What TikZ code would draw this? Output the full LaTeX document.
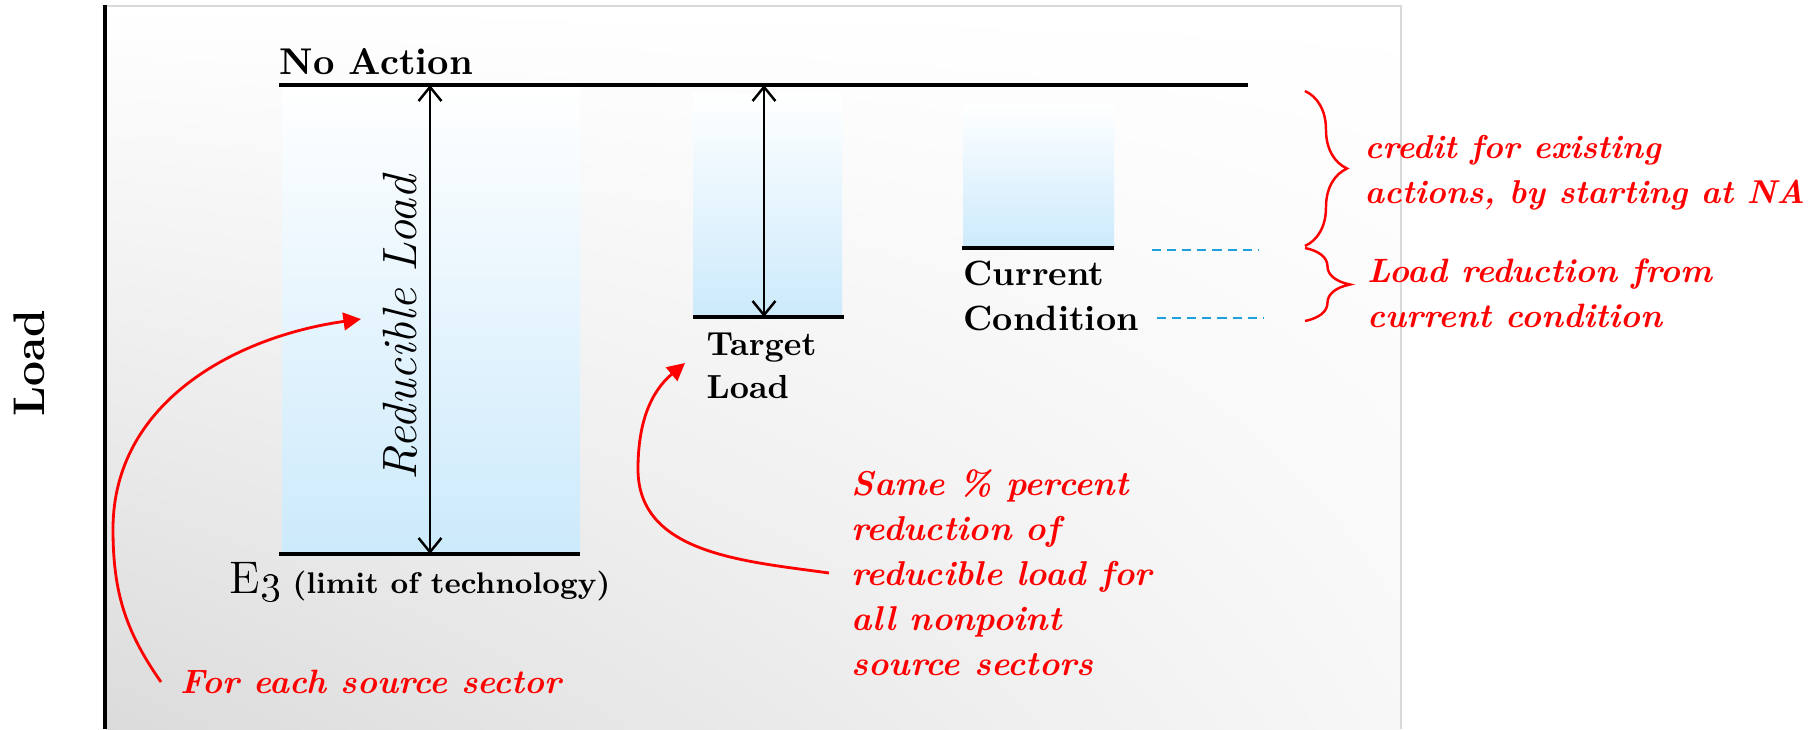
\documentclass[tikz,border=0pt]{standalone}
\usetikzlibrary{arrows.meta,decorations.pathreplacing,positioning,shadings}
\definecolor{lvlblue}{RGB}{204,234,251}
\definecolor{guideblue}{RGB}{30,160,220}
\begin{document}
\begin{tikzpicture}[lvl/.style={line width=1.3pt}, span/.style={{Straight Barb[length=4pt,width=6.5pt]}-{Straight Barb[length=4pt,width=6.5pt]}, line width=0.7pt}, bar/.style={top color=white, bottom color=lvlblue, draw=none}, lbl/.style={inner sep=0pt, align=left, anchor=base west, font=\bfseries\fontsize{10}{12.8}\selectfont}, note/.style={inner sep=0pt, align=left, anchor=base west, text=red, font=\bfseries\itshape\fontsize{9.7}{12.8}\selectfont}, callout/.style={red, line width=0.8pt, -{Triangle[length=5pt,width=5pt]}}, guide/.style={guideblue, line width=0.6pt, dash pattern=on 2.6pt off 1.7pt}, curly/.style={red, line width=0.7pt, decorate, decoration={brace, amplitude=4.2mm}}]
\useasboundingbox (0,0) rectangle (18.2,7.29);
\shade[upper left=white, upper right=white, lower left=black!14, lower right=black!3] (1.06,0) rectangle (14.01,7.23); \draw[black!15, line width=0.6pt] (1.06,7.23) -- (14.01,7.23) -- (14.01,0);
\coordinate (axbot) at (1.05,0); \coordinate (axtop) at (1.05,7.24); \draw[line width=0.9pt] (axbot) -- (axtop);
\node[rotate=90, inner sep=0pt, font=\bfseries\fontsize{12.6}{12.6}\selectfont] (ylbl) at (0.29,3.66) {Load};
\shade[bar] (2.82,1.75) rectangle (5.80,6.42); \shade[bar] (6.93,4.12) rectangle (8.42,6.36); \shade[bar] (9.63,4.81) rectangle (11.14,6.25);
\coordinate (naL) at (2.79,6.44); \coordinate (naR) at (12.48,6.44); \coordinate (e3L) at (2.79,1.75); \coordinate (e3R) at (5.80,1.75); \coordinate (tgL) at (6.93,4.12); \coordinate (tgR) at (8.44,4.12); \coordinate (ccL) at (9.62,4.81); \coordinate (ccR) at (11.14,4.81);
\draw[lvl] (naL) -- (naR); \draw[lvl] (e3L) -- (e3R); \draw[lvl] (tgL) -- (tgR); \draw[lvl] (ccL) -- (ccR);
\coordinate (redtop) at (4.30,6.44); \coordinate (redbot) at (4.30,1.75); \coordinate (tgtop) at (7.64,6.44); \coordinate (tgbot) at (7.64,4.12);
\draw[span] (redtop) -- (redbot); \draw[span] (tgtop) -- (tgbot);
\node[lbl, font=\bfseries\fontsize{10.6}{12}\selectfont] (na) at (2.79,6.55) {No Action};
\node[rotate=90, inner sep=0pt, font=\itshape\fontsize{13.7}{13.7}\selectfont] (reduc) at (4.00,4.01) {Reducible Load};
\node[lbl, font=\bfseries\fontsize{8.5}{10}\selectfont] (e3) at (2.29,1.36) {{\mdseries\fontsize{13}{13}\selectfont E\oldstylenums{3}} (limit of technology)};
\node[lbl, font=\bfseries\fontsize{9.5}{12.2}\selectfont] (tgload) at (7.06,3.31) {Target\\Load};
\node[lbl] (curcond) at (9.63,3.99) {Current\\Condition};
\coordinate (g1a) at (11.52,4.79); \coordinate (g1b) at (12.59,4.79); \coordinate (g2a) at (11.57,4.11); \coordinate (g2b) at (12.63,4.11); \draw[guide] (g1a) -- (g1b); \draw[guide] (g2a) -- (g2b);
\coordinate (b1top) at (13.05,6.38); \coordinate (b1bot) at (13.05,4.83); \coordinate (b2top) at (13.05,4.81); \coordinate (b2bot) at (13.05,4.08);
\draw[curly] (b1top) -- (b1bot); \draw[curly, decoration={brace, amplitude=4.5mm}] (b2top) -- (b2bot);
\node[note, font=\bfseries\itshape\fontsize{9.4}{12.8}\selectfont] (credit) at (13.64,5.26) {credit for existing\\actions, by starting at NA};
\node[note, font=\bfseries\itshape\fontsize{9.6}{12.8}\selectfont] (loadred) at (13.67,4.02) {Load reduction from\\current condition};
\node[note, font=\bfseries\itshape\fontsize{9.8}{12.8}\selectfont] (same) at (8.51,0.54) {Same \% percent\\reduction of\\reducible load for\\all nonpoint\\source sectors};
\node[note, font=\bfseries\itshape\fontsize{9.6}{12}\selectfont] (each) at (1.80,0.36) {For each source sector};
\coordinate (c1a) at (1.61,0.47); \coordinate (c1b) at (1.13,2.0); \coordinate (c1c) at (3.61,4.10); \draw[callout] (c1a) to[out=125,in=-90] (c1b) to[out=90,in=188] (c1c);
\coordinate (c2a) at (8.29,1.56); \coordinate (c2b) at (6.38,2.6); \coordinate (c2c) at (6.85,3.66); \draw[callout] (c2a) to[out=172,in=-90] (c2b) to[out=90,in=220] (c2c);
\end{tikzpicture}
\end{document}
